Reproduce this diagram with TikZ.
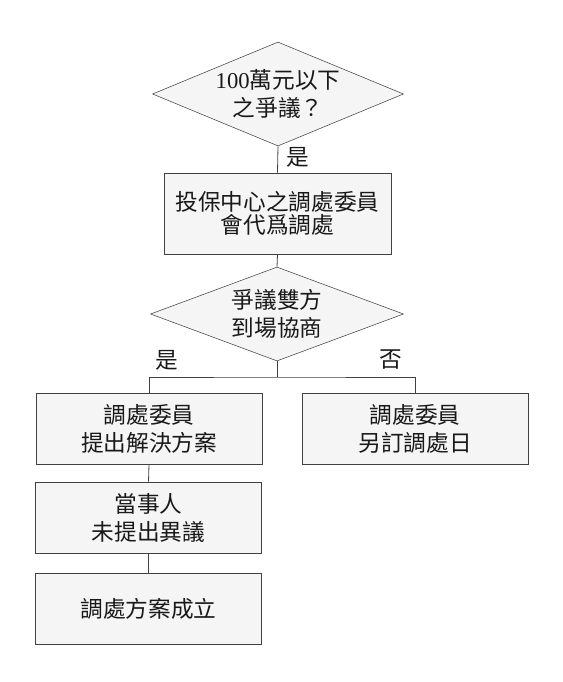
\documentclass[tikz,border=0pt]{standalone}
\usepackage{fontspec}
\setmainfont{Liberation Serif}
\newfontfamily\cjk{Noto Sans CJK TC}
\usetikzlibrary{shapes.geometric}

\begin{document}
\begin{tikzpicture}[x=0.75pt,y=-0.75pt]
        \tikzstyle{every node}=[font=\cjk\fontsize{17}{21}\selectfont, align=center, text=black!90];
        \tikzstyle{decision}=[draw=black!75, fill=black!4, shape=diamond, inner sep=-4pt, aspect=2.4];
        \tikzstyle{box}=[draw=black!75, fill=black!4, shape=rectangle, minimum width=169.5pt, minimum height=53.25pt];
        \tikzstyle{link}=[draw=black!75, line width=0.6pt];
        \useasboundingbox (0,0) rectangle (563,682);

        \node[decision, minimum width=188.25pt, minimum height=78pt] (amount) at (278,94) {{\rmfamily 100}萬元以下\\之爭議？};
        \node[box, minimum width=170.25pt, minimum height=60.75pt, font=\cjk\fontsize{17}{17.5}\selectfont] (mediate) at (277.5,213.5) {投保中心之調處委員\\會代爲調處};
        \node[decision, minimum width=189.75pt, minimum height=70.5pt] (attend) at (277,314) {爭議雙方\\到場協商};
        \coordinate (split) at (277,377);
        \node[box] (propose) at (149,428.5) {調處委員\\提出解決方案};
        \node[box] (reschedule) at (415,428.5) {調處委員\\另訂調處日};
        \node[box] (noobject) at (148.5,517.5) {當事人\\未提出異議};
        \node[box] (success) at (148.5,609) {調處方案成立};

        \node (yes1) at (298,157) {是};
        \node (yes2) at (167,360) {是};
        \node (no2) at (391,360) {否};

        \draw[link] (amount.south) -- (mediate.north);
        \draw[link] (mediate.south) -- (attend.north);
        \draw[link] (attend.south) -- (split);
        \draw[link] (propose.north) |- (split) -| (reschedule.north);
        \draw[link] (propose.south) -- (noobject.north);
        \draw[link] (noobject.south) -- (success.north);
\end{tikzpicture}
\end{document}
